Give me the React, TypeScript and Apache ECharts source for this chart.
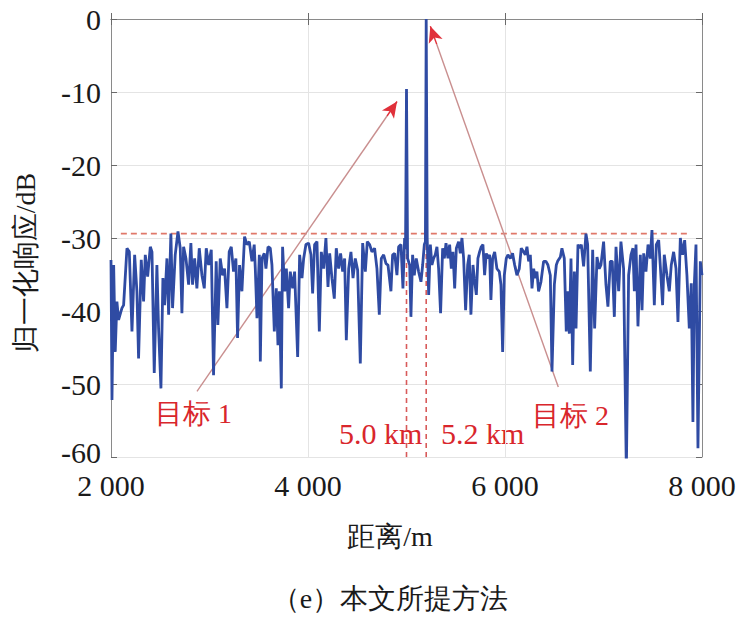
import React, { useEffect, useRef } from 'react';
import * as echarts from 'echarts';

// distance (m) and normalized response (dB)
const distance = [
  2000, 2010, 2027, 2043, 2060, 2077, 2111, 2128, 2162, 2186, 2213, 2240, 2263, 2280, 2307, 2331, 2348, 2372, 2399, 2416,
  2439, 2466, 2483, 2507, 2527, 2544, 2568, 2585, 2608, 2625, 2652, 2680, 2703, 2720, 2737, 2761, 2788, 2811, 2828, 2849,
  2872, 2896, 2923, 2947, 2967, 2991, 3018, 3041, 3068, 3085, 3109, 3133, 3153, 3177, 3200, 3221, 3244, 3268, 3285, 3305,
  3329, 3356, 3380, 3404, 3431, 3454, 3465, 3482, 3506, 3516, 3533, 3556, 3573, 3594, 3617, 3634, 3658, 3678, 3695, 3709,
  3729, 3742, 3763, 3780, 3803, 3820, 3844, 3864, 3895, 3915, 3939, 3956, 3979, 4006, 4030, 4047, 4067, 4091, 4115, 4135,
  4159, 4182, 4203, 4220, 4243, 4267, 4287, 4311, 4331, 4352, 4372, 4389, 4413, 4436, 4457, 4480, 4504, 4531, 4555, 4582,
  4602, 4626, 4649, 4676, 4700, 4724, 4744, 4768, 4792, 4812, 4842, 4859, 4880, 4903, 4920, 4944, 4964, 4981, 4990, 5000,
  5011, 5032, 5045, 5062, 5079, 5099, 5123, 5147, 5164, 5181, 5192, 5200, 5210, 5225, 5242, 5258, 5275, 5292, 5309, 5326,
  5346, 5367, 5384, 5401, 5421, 5438, 5455, 5472, 5489, 5506, 5529, 5546, 5563, 5580, 5600, 5621, 5637, 5654, 5675, 5688,
  5709, 5725, 5742, 5759, 5776, 5793, 5810, 5827, 5844, 5857, 5874, 5895, 5918, 5942, 5959, 5976, 5993, 6013, 6030, 6054,
  6077, 6098, 6121, 6145, 6165, 6189, 6206, 6223, 6240, 6257, 6274, 6291, 6307, 6324, 6341, 6365, 6392, 6416, 6436, 6460,
  6477, 6501, 6521, 6534, 6562, 6578, 6602, 6622, 6639, 6653, 6670, 6687, 6704, 6721, 6741, 6758, 6775, 6798, 6822, 6839,
  6866, 6890, 6910, 6934, 6957, 6974, 7001, 7025, 7045, 7069, 7089, 7110, 7127, 7154, 7177, 7204, 7232, 7255, 7279, 7299,
  7313, 7330, 7350, 7374, 7391, 7408, 7431, 7452, 7475, 7492, 7516, 7536, 7560, 7577, 7600, 7617, 7644, 7668, 7688, 7712,
  7736, 7756, 7780, 7803, 7824, 7847, 7871, 7891, 7908, 7922, 7939, 7959, 7983, 8000,
];

const response = [
  -33.0, -52.2, -33.7, -45.6, -38.7, -41.2, -39.6, -39.2, -31.4, -31.9, -42.8, -32.3, -37.3, -46.5, -33.0, -38.7, -32.3, -35.3, -31.2, -31.9,
  -48.5, -33.7, -42.4, -50.6, -35.5, -39.2, -32.8, -40.5, -29.4, -39.6, -32.3, -29.1, -31.4, -40.3, -31.2, -32.8, -36.4, -30.7, -36.4, -32.8,
  -36.9, -31.4, -35.1, -36.9, -31.4, -33.7, -31.6, -48.8, -33.2, -41.9, -32.8, -35.1, -34.2, -39.6, -31.9, -31.2, -34.6, -32.8, -43.7, -33.7,
  -37.3, -29.8, -30.9, -30.5, -33.2, -30.9, -34.2, -41.0, -32.3, -46.9, -32.8, -32.1, -34.2, -31.2, -31.4, -33.7, -42.8, -36.9, -44.7, -37.3,
  -50.6, -31.2, -37.3, -34.2, -39.6, -34.6, -36.9, -34.6, -46.3, -32.3, -35.5, -32.8, -30.9, -30.7, -32.3, -37.6, -30.9, -30.5, -42.8, -31.9,
  -34.2, -30.0, -36.7, -32.1, -35.5, -38.3, -31.4, -34.2, -32.1, -34.6, -32.8, -44.0, -34.2, -31.9, -35.5, -32.8, -34.4, -47.2, -30.7, -34.6,
  -30.5, -30.9, -31.9, -31.4, -34.2, -40.5, -32.8, -32.3, -33.5, -33.7, -37.3, -32.3, -32.1, -35.1, -31.2, -30.9, -36.9, -30.0, -31.5, -9.6,
  -32.8, -33.7, -40.8, -32.3, -35.1, -32.8, -34.6, -36.0, -33.7, -30.9, -30.5, 0.0, -30.0, -37.8, -30.9, -33.7, -32.8, -32.3, -31.2, -34.2,
  -40.3, -31.4, -32.8, -30.7, -32.8, -30.9, -34.2, -31.9, -36.9, -31.4, -30.5, -32.1, -30.0, -32.8, -39.9, -33.7, -32.3, -40.5, -33.7, -35.5,
  -37.8, -32.8, -31.9, -31.2, -30.9, -35.1, -32.1, -32.8, -32.3, -38.5, -32.8, -31.9, -34.2, -34.6, -36.4, -45.6, -35.1, -32.8, -32.3, -32.8,
  -32.1, -33.7, -35.1, -34.2, -31.4, -31.9, -32.3, -31.2, -33.2, -32.3, -36.9, -34.2, -35.5, -34.6, -37.3, -36.0, -33.2, -33.2, -33.7, -35.1,
  -48.3, -36.4, -33.7, -33.2, -32.6, -31.4, -32.8, -42.8, -37.3, -43.1, -32.8, -47.4, -34.6, -42.4, -30.9, -31.4, -30.9, -33.9, -29.4, -30.9,
  -48.3, -31.6, -42.4, -32.6, -34.2, -33.7, -30.5, -36.4, -39.4, -33.2, -33.2, -40.8, -31.2, -37.3, -30.5, -34.2, -62.0, -35.1, -32.3, -31.4,
  -37.3, -30.9, -42.1, -32.3, -39.9, -32.1, -34.6, -30.9, -32.8, -28.9, -39.2, -30.9, -30.3, -33.9, -39.2, -32.3, -35.1, -37.3, -33.7, -31.9,
  -34.2, -41.5, -30.0, -32.3, -30.3, -35.1, -42.4, -36.2, -55.2, -36.4, -30.9, -58.8, -33.2, -35.1,
];

const xTickValues = [2000, 4000, 6000, 8000];
const xTickLabels = ['2 000', '4 000', '6 000', '8 000'];
const yTickValues = [0, -10, -20, -30, -40, -50, -60];
const yTickLabels = ['0', '-10', '-20', '-30', '-40', '-50', '-60'];

const threshold = -29.4;
const thresholdSpan = [2100, 7880];
const targetDistances = [5000, 5200];
const targetPeaks = [-9.6, 0];
const arrowStarts = [[2873, -51.0], [6541, -50.4]];
const arrowEnds = [[4904, -11.3], [5242, -1.0]];

const SERIF = 'Liberation Serif';
const RED = '#d9262c';

export default function App() {
  const ref = useRef<HTMLDivElement>(null);
  useEffect(() => {
    document.body.style.margin = '0';
    const chart = echarts.init(ref.current!, undefined, { renderer: 'svg' });

    const lineData = distance.map((d, i) => [d, response[i]]);

    const arrowLines: any[] = [];
    const arrowHeads: any[] = [];
    arrowStarts.forEach((s, i) => {
      const e = arrowEnds[i];
      const mid = [s[0] + (e[0] - s[0]) * 0.95, s[1] + (e[1] - s[1]) * 0.95];
      arrowLines.push([{ coord: s }, { coord: mid }]);
      arrowHeads.push([{ coord: mid }, { coord: e }]);
    });

    const axisLineStyle = { color: '#8a8a8a', width: 1 };
    const tickStyle = { color: '#6a6a6a', width: 1 };

    const option: any = {
      animation: false,
      grid: { left: 111, top: 19, right: 42, bottom: 165, containLabel: false },
      xAxis: [
        {
          type: 'value', min: 2000, max: 8000, interval: 2000, position: 'bottom',
          axisLine: { show: true, lineStyle: axisLineStyle },
          axisTick: { show: true, inside: true, length: 6, lineStyle: tickStyle },
          splitLine: { show: true, lineStyle: { color: '#e4e4e4', width: 1 } },
          axisLabel: {
            color: '#1a1a1a', fontFamily: SERIF, fontSize: 30, margin: 13,
            formatter: (v: number) => xTickLabels[xTickValues.indexOf(v)] ?? '',
          },
        },
        {
          type: 'value', min: 2000, max: 8000, interval: 2000, position: 'top',
          axisLine: { show: true, lineStyle: axisLineStyle },
          axisTick: { show: true, inside: true, length: 6, lineStyle: tickStyle },
          splitLine: { show: false }, axisLabel: { show: false },
        },
      ],
      yAxis: [
        {
          type: 'value', min: -60, max: 0, interval: 10, position: 'left',
          axisLine: { show: true, lineStyle: axisLineStyle },
          axisTick: { show: true, inside: true, length: 6, lineStyle: tickStyle },
          splitLine: { show: true, lineStyle: { color: '#e4e4e4', width: 1 } },
          axisLabel: {
            color: '#1a1a1a', fontFamily: SERIF, fontSize: 30, margin: 10,
            formatter: (v: number) => {
              const t = yTickLabels[yTickValues.indexOf(v)] ?? '';
              return v === -60 ? `{low|${t}}` : t;
            },
            rich: { low: { fontFamily: SERIF, fontSize: 30, color: '#1a1a1a', padding: [0, 0, 10, 0] } },
          },
        },
        {
          type: 'value', min: -60, max: 0, interval: 10, position: 'right',
          axisLine: { show: true, lineStyle: axisLineStyle },
          axisTick: { show: true, inside: true, length: 6, lineStyle: tickStyle },
          splitLine: { show: false }, axisLabel: { show: false },
        },
      ],
      series: [
        {
          type: 'line', symbol: 'none', silent: true, z: 2,
          data: [[thresholdSpan[0], threshold], [thresholdSpan[1], threshold]],
          lineStyle: { color: '#e0786a', width: 1.6, type: [6, 4] },
        },
        ...targetDistances.map((d, i) => ({
          type: 'line', symbol: 'none', silent: true, z: 2,
          data: [[d, -60], [d, targetPeaks[i]]],
          lineStyle: { color: '#d85a5a', width: 1.6, type: [5, 4] },
        })),
        {
          type: 'line', symbol: 'none', silent: true, z: 3, data: [],
          markLine: {
            silent: true, symbol: ['none', 'none'], label: { show: false },
            lineStyle: { color: '#c98f8f', width: 1.4, type: 'solid' },
            data: arrowLines,
          },
        },
        {
          type: 'line', symbol: 'none', silent: true, z: 6, data: [],
          markLine: {
            silent: true, symbol: ['none', 'arrow'], symbolSize: [11, 16], label: { show: false },
            lineStyle: { color: '#e0303a', width: 1.4, type: 'solid' },
            data: arrowHeads,
          },
        },
        {
          type: 'line', symbol: 'none', z: 5, clip: true,
          data: lineData,
          lineStyle: { color: '#2f4ba3', width: 2.8 },
        },
      ],
      graphic: [
        {
          type: 'text', x: 25, y: 263, rotation: Math.PI / 2,
          style: { text: '归一化响应/dB', fontFamily: SERIF, fontSize: 28, fill: '#1a1a1a', align: 'center', verticalAlign: 'middle' },
        },
        {
          type: 'text', x: 390, y: 536,
          style: { text: '距离/m', fontFamily: SERIF, fontSize: 28, fill: '#1a1a1a', align: 'center', verticalAlign: 'middle' },
        },
        {
          type: 'text', x: 390, y: 598,
          style: { text: '（e）本文所提方法', fontFamily: SERIF, fontSize: 28, fill: '#1a1a1a', align: 'center', verticalAlign: 'middle' },
        },
        {
          type: 'text', x: 155, y: 413,
          style: { text: '目标 1', fontFamily: SERIF, fontSize: 28, fill: RED, align: 'left', verticalAlign: 'middle' },
        },
        {
          type: 'text', x: 532, y: 415,
          style: { text: '目标 2', fontFamily: SERIF, fontSize: 28, fill: RED, align: 'left', verticalAlign: 'middle' },
        },
        {
          type: 'text', x: 339, y: 433,
          style: { text: '5.0 km', fontFamily: SERIF, fontSize: 30, fill: RED, align: 'left', verticalAlign: 'middle' },
        },
        {
          type: 'text', x: 441, y: 433,
          style: { text: '5.2 km', fontFamily: SERIF, fontSize: 30, fill: RED, align: 'left', verticalAlign: 'middle' },
        },
      ],
    };
    chart.setOption(option);
    return () => chart.dispose();
  }, []);
  return <div ref={ref} style={{ width: 744, height: 622 }} />;
}
